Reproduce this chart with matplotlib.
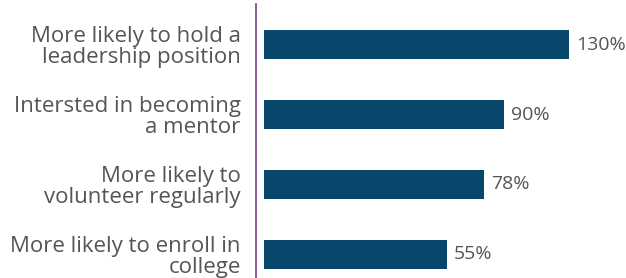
import matplotlib.pyplot as plt
import numpy as np

labels = ["More likely to hold a\nleadership position",
          "Intersted in becoming\na mentor",
          "More likely to\nvolunteer regularly",
          "More likely to enroll in\ncollege"]
values = [130, 90, 78, 55]
value_text = ["130%", "90%", "78%", "55%"]

bar_color = "#08466b"
line_color = "#7b3f8f"
text_color = "#555555"
base = -57  # bars start left of zero in the original

plt.rcParams['font.family'] = ['Open Sans', 'DejaVu Sans']

fig = plt.figure(figsize=(6.26, 2.78), dpi=100)
ax = fig.add_axes([256 / 626, 0, 370 / 626, 274 / 278])

y = np.arange(len(values))
vals = np.array(values)
bars = ax.barh(y, vals - base, left=base, height=0.414, color=bar_color)

ax.bar_label(bars, labels=value_text, padding=5, fontsize=14, color=text_color)

ax.set_xlim(-62, 165)
ax.set_ylim(3.336, -0.579)
ax.set_yticks(y)
ax.set_yticklabels(labels, fontsize=16, color=text_color, linespacing=1.0)
ax.tick_params(axis='y', length=0, pad=11)
ax.set_xticks([])

for s in ["top", "right", "bottom"]:
    ax.spines[s].set_visible(False)
ax.spines["left"].set_color(line_color)
ax.spines["left"].set_linewidth(1.2)

fig.savefig("out.png", dpi=100)
